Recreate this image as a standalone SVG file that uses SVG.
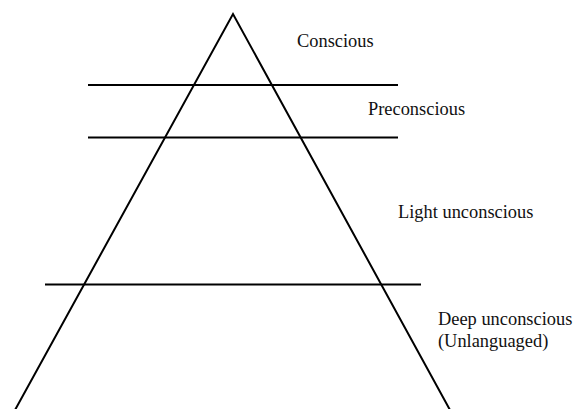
<svg xmlns="http://www.w3.org/2000/svg" width="585" height="409" viewBox="0 0 585 409">
<style>
.ln{stroke:#000;stroke-width:2;fill:none}
.lb{font-family:"Liberation Serif","Times New Roman",serif;font-size:18.4px;fill:#111}
</style>
<rect width="585" height="409" fill="#fff"/>
<g id="connectors">
<polyline class="ln" points="15,410 233,14 450,410"/>
<line class="ln" x1="88" y1="85" x2="398" y2="85"/>
<line class="ln" x1="88" y1="137.5" x2="398" y2="137.5"/>
<line class="ln" x1="45" y1="284.5" x2="421" y2="284.5"/>
</g>
<g id="conscious"><text class="lb" x="297" y="47">Conscious</text></g>
<g id="preconscious"><text class="lb" x="368" y="115">Preconscious</text></g>
<g id="light"><text class="lb" x="398" y="218">Light unconscious</text></g>
<g id="deep"><text class="lb" x="438" y="325">Deep unconscious</text><text class="lb" x="438" y="347">(Unlanguaged)</text></g>
</svg>
